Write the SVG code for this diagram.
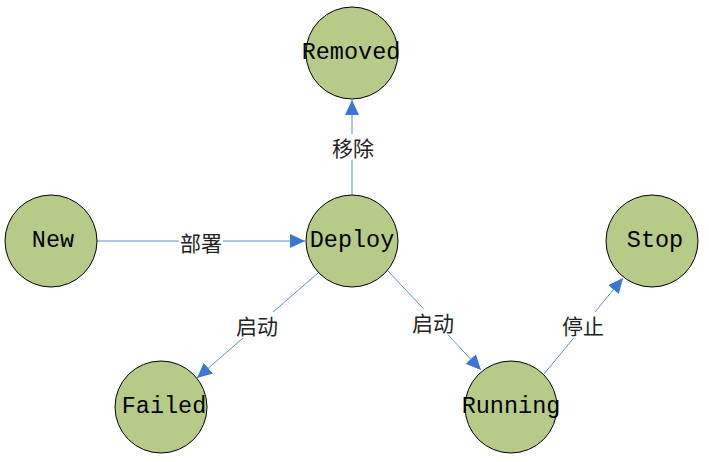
<svg xmlns="http://www.w3.org/2000/svg" width="709" height="462" viewBox="0 0 709 462">
<defs>
<style>
.node{fill:#B7CB89;stroke:#000;stroke-width:1}
.nt{font-family:"Liberation Mono",monospace;font-size:23.5px;fill:#000;text-anchor:middle;dominant-baseline:central}
.edge{stroke:#5B8ED6;stroke-width:1;fill:none}
.lb{fill:#fff}
.lt{font-family:"Noto Sans CJK SC",sans-serif;font-size:21px;fill:#222;text-anchor:middle;dominant-baseline:central}
</style>
<marker id="arr" markerUnits="userSpaceOnUse" markerWidth="16" markerHeight="14" viewBox="0 0 16 14" refX="15" refY="7" orient="auto">
<path d="M0,0 L15,7 L0,14 Z" fill="#3A77D2"/>
</marker>
</defs>
<rect width="709" height="462" fill="#fff"/>
<g id="connectors">
<line class="edge" x1="97" y1="241" x2="305" y2="241" marker-end="url(#arr)"/>
<line class="edge" x1="352" y1="195" x2="352" y2="100" marker-end="url(#arr)"/>
<line class="edge" x1="318" y1="273" x2="197" y2="378" marker-end="url(#arr)"/>
<line class="edge" x1="388" y1="271" x2="481" y2="370" marker-end="url(#arr)"/>
<line class="edge" x1="544" y1="374" x2="623" y2="278" marker-end="url(#arr)"/>
<rect class="lb" x="179" y="230" width="44" height="24"/>
<text class="lt" x="201" y="242">部署</text>
<rect class="lb" x="331" y="134" width="44" height="26"/>
<text class="lt" x="353" y="147">移除</text>
<rect class="lb" x="235" y="312" width="44" height="26"/>
<text class="lt" x="257" y="325">启动</text>
<rect class="lb" x="411" y="309" width="44" height="26"/>
<text class="lt" x="433" y="322">启动</text>
<rect class="lb" x="561" y="312" width="44" height="26"/>
<text class="lt" x="583" y="325">停止</text>
</g>
<g id="node-removed"><circle class="node" cx="352" cy="53" r="46"/><text class="nt" x="351" y="52">Removed</text></g>
<g id="node-new"><circle class="node" cx="51" cy="241" r="46"/><text class="nt" x="53" y="240">New</text></g>
<g id="node-deploy"><circle class="node" cx="352" cy="241" r="46"/><text class="nt" x="352" y="240">Deploy</text></g>
<g id="node-stop"><circle class="node" cx="652" cy="241" r="46"/><text class="nt" x="655" y="240">Stop</text></g>
<g id="node-failed"><circle class="node" cx="161" cy="407" r="46"/><text class="nt" x="164" y="406">Failed</text></g>
<g id="node-running"><circle class="node" cx="511" cy="407" r="46"/><text class="nt" x="511" y="406">Running</text></g>
</svg>
